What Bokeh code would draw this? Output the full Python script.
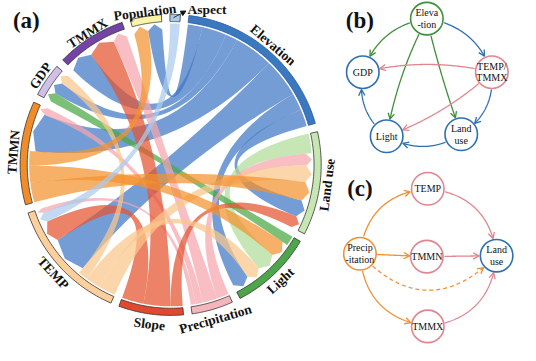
import numpy as np
from bokeh.plotting import figure
from bokeh.models import Range1d, Arrow, NormalHead
from bokeh.core.properties import value
from bokeh.embed import file_html
from bokeh.resources import INLINE

# ---------------- data: chord diagram (a) ----------------
sectors = ["Elevation", "Land use", "Light", "Precipitation", "Slope",
           "TEMP", "TMMN", "GDP", "TMMX", "Population", "Aspect"]

link_source = ["Elevation"] * 7 + ["Land use", "Light"] + ["Precipitation"] * 4 + \
              ["Slope"] * 3 + ["TEMP"] * 3 + ["TMMN"] * 3 + ["Aspect"]
link_target = ["Population", "TMMX", "GDP", "TMMN", "TEMP", "Light", "Land use",
               "Light", "GDP",
               "Land use", "TMMX", "TMMN", "TEMP",
               "Land use", "TMMX", "TEMP",
               "Land use", "Light", "GDP",
               "Land use", "Light", "Population",
               "TEMP"]
link_value = [6, 10, 5, 16, 16, 7, 7,
              8, 4,
              5, 6, 3, 2,
              5, 11, 9,
              7, 6, 4,
              8, 7, 6,
              4]

# ---------------- data: networks (b) and (c) ----------------
b_nodes = ["Elevation", "GDP", "TEMP/TMMX", "Light", "Land use"]
b_labels = ["Eleva\n-tion", "GDP", "TEMP/\nTMMX", "Light", "Land\nuse"]
b_src = ["Elevation", "Elevation", "Elevation", "Elevation", "TEMP/TMMX",
         "TEMP/TMMX", "TEMP/TMMX", "Land use", "Light"]
b_dst = ["GDP", "TEMP/TMMX", "Light", "Land use", "GDP",
         "Light", "Land use", "Light", "GDP"]

c_nodes = ["Precipitation", "TEMP", "TMMN", "Land use", "TMMX"]
c_labels = ["Precip\n-itation", "TEMP", "TMMN", "Land\nuse", "TMMX"]
c_src = ["Precipitation", "Precipitation", "Precipitation", "Precipitation",
         "TEMP", "TMMN", "TMMX"]
c_dst = ["TEMP", "TMMN", "TMMX", "Land use", "Land use", "Land use", "Land use"]

# ---------------- layout / style ----------------
arc_fill = {"Elevation": "#3a78c0", "Land use": "#c6e6b2", "Light": "#4ea64a",
            "Precipitation": "#f6b5bb", "Slope": "#e2482e", "TEMP": "#fccf9c",
            "TMMN": "#f28c28", "GDP": "#d2bfe6", "TMMX": "#7443a6",
            "Population": "#faf4a8", "Aspect": "#a9cbe8"}
chord_fill = {"Elevation": "#3f77c5", "Land use": "#b0dc98", "Light": "#4aa844",
              "Precipitation": "#f5a5ad", "Slope": "#e5532f", "TEMP": "#fbc68a",
              "TMMN": "#f4912e", "Aspect": "#a9cbeb"}
slot_order = {
    "Elevation": [("out", "Population"), ("out", "TMMX"), ("out", "GDP"), ("out", "TMMN"),
                  ("out", "TEMP"), ("out", "Light"), ("out", "Land use")],
    "Land use": [("out", "Light"), ("in", "Precipitation"), ("in", "TEMP"), ("in", "TMMN"),
                 ("in", "Elevation"), ("in", "Slope")],
    "Light": [("out", "GDP"), ("in", "TMMN"), ("in", "Land use"), ("in", "TEMP"), ("in", "Elevation")],
    "Precipitation": [("out", "Land use"), ("out", "TMMX"), ("out", "TMMN"), ("out", "TEMP")],
    "Slope": [("out", "Land use"), ("out", "TMMX"), ("out", "TEMP")],
    "TEMP": [("out", "Land use"), ("out", "Light"), ("out", "GDP"), ("in", "Elevation"),
             ("in", "Slope"), ("in", "Aspect"), ("in", "Precipitation")],
    "TMMN": [("out", "Land use"), ("out", "Light"), ("out", "Population"),
             ("in", "Elevation"), ("in", "Precipitation")],
    "GDP": [("in", "Light"), ("in", "Elevation"), ("in", "TEMP")],
    "TMMX": [("in", "Elevation"), ("in", "Slope"), ("in", "Precipitation")],
    "Population": [("in", "TMMN"), ("in", "Elevation")],
    "Aspect": [("out", "TEMP")],
}
cx, cy = 174.0, 172.0
R_IN, R_OUT, R_CH, TIP = 150.0, 157.5, 148.0, 6.0
START = 7.0
SERIF = "Liberation Serif"


def polar(theta, r):
    t = np.radians(theta)
    return cx + r * np.sin(t), cy - r * np.cos(t)


def qbez(p0, c, p2, n=40):
    t = np.linspace(0, 1, n)[:, None]
    return (1 - t) ** 2 * np.asarray(p0, float) + 2 * (1 - t) * t * np.asarray(c, float) + t ** 2 * np.asarray(p2, float)


# sector sizes from the links
size = {s: 0.0 for s in sectors}
for s, d, v in zip(link_source, link_target, link_value):
    size[s] += v
    size[d] += v
total = sum(size.values())
gap = (360.0 - total) / len(sectors)
sec_start, sec_end = {}, {}
pos = START
for s in sectors:
    sec_start[s] = pos
    sec_end[s] = pos + size[s]
    pos = sec_end[s] + gap

# slots
src_slot, dst_slot = {}, {}
for s in sectors:
    a = sec_start[s]
    for direction, partner in slot_order[s]:
        for i, (ls, ld, v) in enumerate(zip(link_source, link_target, link_value)):
            if direction == "out" and ls == s and ld == partner:
                src_slot[i] = (a, a + v); a += v
            elif direction == "in" and ld == s and ls == partner:
                dst_slot[i] = (a, a + v); a += v

p = figure(width=520, height=345, x_range=Range1d(-4, 540), y_range=Range1d(361, 0),
           output_backend="svg", toolbar_location=None, min_border=0,
           x_axis_location=None, y_axis_location=None)
p.grid.visible = False
p.outline_line_color = None

# chords
cxs, cys, ccol = [], [], []
for i in range(len(link_value)):
    a1, a2 = src_slot[i]
    b1, b2 = dst_slot[i]
    th = np.linspace(a1, a2, 20)
    xs, ys = polar(th, R_CH)
    pts = [np.column_stack([xs, ys])]
    pts.append(qbez(polar(a2, R_CH), (cx, cy), polar(b1, R_CH - TIP))[1:])
    bm = 0.5 * (b1 + b2)
    pts.append(np.array([polar(bm, R_CH), polar(b2, R_CH - TIP)]))
    pts.append(qbez(polar(b2, R_CH - TIP), (cx, cy), polar(a1, R_CH))[1:-1])
    allp = np.vstack(pts)
    cxs.append(list(allp[:, 0])); cys.append(list(allp[:, 1]))
    ccol.append(chord_fill[link_source[i]])
p.patches(cxs, cys, fill_color=ccol, fill_alpha=0.72, line_color=None)

# sector arcs
axs, ays, acol, aline = [], [], [], []
for s in sectors:
    th = np.linspace(sec_start[s], sec_end[s], 40)
    xo, yo = polar(th, R_OUT)
    xi, yi = polar(th[::-1], R_IN)
    axs.append(list(xo) + list(xi)); ays.append(list(yo) + list(yi))
    acol.append(arc_fill[s])
    aline.append("#2a5a9a" if s == "Elevation" else "#333333")
p.patches(axs, ays, fill_color=acol, line_color=aline, line_width=0.8)

# sector labels
label_r = {"Elevation": 165, "Land use": 165, "Light": 167, "Precipitation": 168,
           "Slope": 168, "TEMP": 167, "TMMN": 165, "GDP": 165, "TMMX": 163,
           "Population": 162}
lx, ly, lt, la = [], [], [], []
for s in sectors:
    if s == "Aspect":
        continue
    mid = 0.5 * (sec_start[s] + sec_end[s])
    x, y = polar(mid, label_r[s])
    ang = 180 - mid if 90 < mid < 270 else -mid
    if s == "Population":
        ang = 7.0
    lx.append(x); ly.append(y); lt.append(s); la.append(np.radians(ang))
p.text(lx, ly, text=lt, angle=la, text_align="center", text_baseline="middle",
       text_font=value(SERIF), text_font_style="bold", text_font_size="13.5px",
       text_color="#111111")
p.text([212], [9], text=["Aspect"], text_align="center", text_baseline="middle",
       text_font=value(SERIF), text_font_style="bold", text_font_size="13.5px",
       text_color="#111111")
p.add_layout(Arrow(end=NormalHead(size=5, fill_color="#111111", line_color="#111111"),
                   x_start=177, y_start=18, x_end=190, y_end=11,
                   line_width=0.8, line_color="#111111"))

# panel letters
p.text([23, 372, 372], [21, 21, 197], text=["(a)", "(b)", "(c)"], text_align="center",
       text_baseline="middle", text_font=value(SERIF), text_font_style="bold",
       text_font_size="23px", text_color="#111111")

# ---------------- networks ----------------
GREEN, BLUE, PINK, ORANGE = "#3f8f3a", "#2f6fb3", "#e0868f", "#ef9030"
NODE_R = 17.0
b_pos = {"Elevation": (442, 19), "GDP": (375, 75), "TEMP/TMMX": (510, 75),
         "Light": (400, 142), "Land use": (478, 140)}
b_node_col = {"Elevation": GREEN, "GDP": BLUE, "TEMP/TMMX": PINK, "Light": BLUE, "Land use": BLUE}
b_edge_col = [GREEN, BLUE, GREEN, GREEN, PINK, PINK, BLUE, BLUE, BLUE]
b_bend = [0.3, -0.3, 0.08, 0.03, 0.12, -0.1, -0.3, -0.3, -0.3]
c_pos = {"Precipitation": (372, 265), "TEMP": (443, 197), "TMMN": (442, 268),
         "Land use": (515, 267), "TMMX": (443, 341)}
c_node_col = {"Precipitation": ORANGE, "TEMP": PINK, "TMMN": PINK, "Land use": BLUE, "TMMX": PINK}
c_edge_col = [ORANGE, ORANGE, ORANGE, ORANGE, PINK, PINK, PINK]
c_bend = [-0.4, 0.0, 0.4, 0.52, -0.4, 0.0, 0.4]
c_dash = [False, False, False, True, False, False, False]


def curve(P0, P2, bend, r0, r2, n=160):
    P0 = np.asarray(P0, float); P2 = np.asarray(P2, float)
    d = P2 - P0
    L = np.hypot(*d)
    nrm = np.array([-d[1], d[0]]) / L
    C = (P0 + P2) / 2 + bend * L * nrm
    pts = qbez(P0, C, P2, n)
    k = (np.hypot(*(pts - P0).T) >= r0 + 1.0) & (np.hypot(*(pts - P2).T) >= r2 + 1.0)
    return pts[k]


def head(pts, length=7.0, half=28.0):
    tip = pts[-1]
    u = tip - pts[-4]
    u = u / np.hypot(*u)
    xs, ys = [], []
    for sgn in (1, -1):
        a = np.radians(sgn * half)
        rot = np.array([[np.cos(a), -np.sin(a)], [np.sin(a), np.cos(a)]])
        v = rot @ (-u) * length
        xs.append(tip[0] + v[0]); ys.append(tip[1] + v[1])
    return [xs[0], tip[0], xs[1]], [ys[0], tip[1], ys[1]]


def draw_net(pos, nodes, labels, node_col, src, dst, ecol, bends, dashes):
    sx, sy, sc, dx, dy, dc = [], [], [], [], [], []
    hx, hy, hc = [], [], []
    for s, d, col, bd, ds in zip(src, dst, ecol, bends, dashes):
        pts = curve(pos[s], pos[d], bd, NODE_R, NODE_R)
        if ds:
            dx.append(list(pts[:, 0])); dy.append(list(pts[:, 1])); dc.append(col)
        else:
            sx.append(list(pts[:, 0])); sy.append(list(pts[:, 1])); sc.append(col)
        hxx, hyy = head(pts)
        hx.append(hxx); hy.append(hyy); hc.append(col)
    p.multi_line(sx, sy, line_color=sc, line_width=1.3)
    if dx:
        p.multi_line(dx, dy, line_color=dc, line_width=1.3, line_dash="4 3")
    p.multi_line(hx, hy, line_color=hc, line_width=1.3)
    nx = [pos[n][0] for n in nodes]
    ny = [pos[n][1] for n in nodes]
    p.circle(nx, ny, radius=NODE_R, fill_color="white",
             line_color=[node_col[n] for n in nodes], line_width=1.6)
    p.text(nx, ny, text=labels, text_align="center", text_baseline="middle",
           text_font=value(SERIF), text_font_size="10px", text_color="#111111",
           text_line_height=1.05)


draw_net(b_pos, b_nodes, b_labels, b_node_col, b_src, b_dst, b_edge_col, b_bend, [False] * 9)
draw_net(c_pos, c_nodes, c_labels, c_node_col, c_src, c_dst, c_edge_col, c_bend, c_dash)

open("out.html", "w").write(file_html(p, INLINE))
